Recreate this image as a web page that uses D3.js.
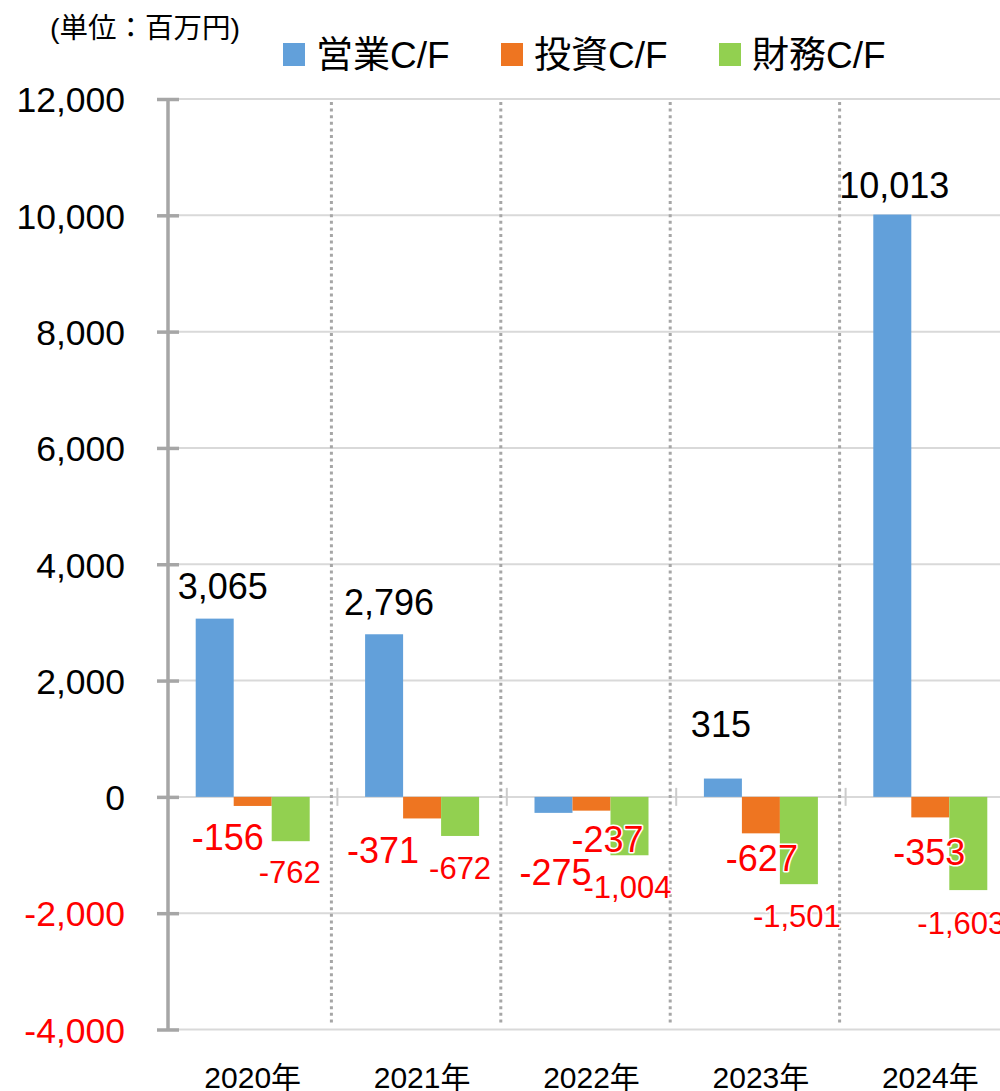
<!DOCTYPE html>
<html>
<head>
<meta charset="utf-8">
<script src="https://cdn.jsdelivr.net/npm/d3@7"></script>
<style>
body { margin: 0; background: #fff; }
text { font-family: "Liberation Sans", Arial, "Noto Sans CJK JP", sans-serif; }
</style>
</head>
<body>
<svg id="cfchart"></svg>
<script>
// data (unit: million yen)
var years = ["2020年", "2021年", "2022年", "2023年", "2024年"]
var seriesNames = ["営業C/F", "投資C/F", "財務C/F"]
var operatingCF = [3065, 2796, -275, 315, 10013]
var investingCF = [-156, -371, -237, -627, -353]
var financingCF = [-762, -672, -1004, -1501, -1603]
var yTicks = [-4000, -2000, 0, 2000, 4000, 6000, 8000, 10000, 12000]
var colors = ["#62a0da", "#ee7521", "#92d050"]

// label nudges (dx from bar centre, dy from bar end), as placed in the original
var labelNudge = [
    [[8, -20], [5, -19], [2, 72], [-2, -42], [2, -17]],
    [[-25, 44], [-39, 45], [16, 41], [1, 38], [-1, 48]],
    [[-1, 42], [0, 43], [-2, 43], [-2, 43], [-7, 44]]
]
var labelSize = [36, 36, 31]

var screen = {width: 1000, height: 1091}
var plot = {left: 168, right: 1015, top: 99, bottom: 1029.5}

var svg = d3.select("#cfchart")
    .attr("width", screen.width)
    .attr("height", screen.height)

var values = [operatingCF, investingCF, financingCF]
var rows = []
years.forEach(function(y, i) {
    seriesNames.forEach(function(s, j) {
        rows.push({year: y, series: s, si: j, yi: i, value: values[j][i]})
    })
})

var xScale = d3.scaleBand()
    .domain(years)
    .range([plot.left, plot.right])
var xInner = d3.scaleBand()
    .domain(seriesNames)
    .range([0, xScale.bandwidth()])
    .paddingOuter(0.729)
var yScale = d3.scaleLinear()
    .domain([-4000, 12000])
    .range([plot.bottom, plot.top])

// plain hyphen for negatives, like the original
var comma = d3.format(",")
var fmt = function(v) { return comma(v).replace("\u2212", "-") }

// horizontal gridlines
svg.append("g")
    .selectAll("line")
    .data(yTicks)
    .enter()
    .append("line")
    .attr("x1", plot.left)
    .attr("x2", screen.width)
    .attr("y1", function(d) { return yScale(d) })
    .attr("y2", function(d) { return yScale(d) })
    .attr("stroke", "#d9d9d9")
    .attr("stroke-width", 2)

// dotted separators between years
svg.append("g")
    .selectAll("line")
    .data(years.slice(1))
    .enter()
    .append("line")
    .attr("x1", function(d) { return xScale(d) - 6 })
    .attr("x2", function(d) { return xScale(d) - 6 })
    .attr("y1", plot.top + 3)
    .attr("y2", 1026)
    .attr("stroke", "#a6a6a6")
    .attr("stroke-width", 3)
    .attr("stroke-dasharray", "3,3.6")

// small x-axis ticks on the zero line
svg.append("g")
    .selectAll("line")
    .data(years.slice(1))
    .enter()
    .append("line")
    .attr("x1", function(d) { return xScale(d) })
    .attr("x2", function(d) { return xScale(d) })
    .attr("y1", yScale(0) - 9)
    .attr("y2", yScale(0) + 9)
    .attr("stroke", "#cccccc")
    .attr("stroke-width", 2)

// bars
svg.append("g")
    .selectAll("rect")
    .data(rows)
    .enter()
    .append("rect")
    .attr("x", function(d) { return xScale(d.year) + xInner(d.series) })
    .attr("width", xInner.bandwidth())
    .attr("y", function(d) { return yScale(Math.max(0, d.value)) })
    .attr("height", function(d) { return Math.abs(yScale(d.value) - yScale(0)) })
    .attr("fill", function(d) { return colors[d.si] })

// y axis
var yAxis = d3.axisLeft(yScale)
    .tickValues(yTicks)
    .tickFormat(fmt)
    .tickSize(0)
    .tickPadding(43)
var ag = svg.append("g")
    .attr("transform", "translate(" + plot.left + ",0)")
    .call(yAxis)
ag.select(".domain").remove()
ag.selectAll(".tick text")
    .attr("font-family", "Liberation Sans, Arial, sans-serif")
    .attr("font-size", 35.5)
    .attr("dy", "0.36em")
    .attr("fill", function(d) { return d < 0 ? "#ff0000" : "#000000" })
ag.selectAll(".tick")
    .append("line")
    .attr("x1", -11)
    .attr("x2", 11)
    .attr("stroke", "#a6a6a6")
    .attr("stroke-width", 3.5)
ag.append("line")
    .attr("y1", plot.top)
    .attr("y2", plot.bottom)
    .attr("stroke", "#a6a6a6")
    .attr("stroke-width", 3.5)

// x labels
var xAxis = d3.axisBottom(xScale).tickSize(0).tickPadding(0)
var xg = svg.append("g")
    .attr("transform", "translate(0,1065)")
    .call(xAxis)
xg.select(".domain").remove()
xg.selectAll(".tick text")
    .attr("font-family", "Liberation Sans, Arial, Noto Sans CJK JP, sans-serif")
    .attr("font-size", 30)
    .attr("fill", "#000")
    .attr("dy", "0.77em")

// value labels
svg.append("g")
    .selectAll("text")
    .data(rows)
    .enter()
    .append("text")
    .attr("x", function(d) {
        return xScale(d.year) + xInner(d.series) + xInner.bandwidth() / 2 + labelNudge[d.si][d.yi][0]
    })
    .attr("y", function(d) { return yScale(d.value) + labelNudge[d.si][d.yi][1] })
    .attr("text-anchor", "middle")
    .attr("font-size", function(d) { return labelSize[d.si] })
    .attr("fill", function(d) { return d.value < 0 ? "#ff0000" : "#000000" })
    .attr("stroke", "#ffffff")
    .attr("stroke-width", function(d) { return d.value < 0 ? 3 : 0 })
    .attr("paint-order", "stroke")
    .attr("stroke-linejoin", "round")
    .text(function(d) { return fmt(d.value) })

// unit note
svg.append("text")
    .attr("x", 50)
    .attr("y", 38)
    .attr("font-size", 28.5)
    .attr("fill", "#000")
    .text("(単位：百万円)")

// legend
var legend = svg.append("g")
    .selectAll("g")
    .data(seriesNames)
    .enter()
    .append("g")
    .attr("transform", function(d, i) { return "translate(" + (283 + i * 218) + ",0)" })
legend.append("rect")
    .attr("y", 43)
    .attr("width", 22)
    .attr("height", 23)
    .attr("fill", function(d, i) { return colors[i] })
legend.append("text")
    .attr("x", 33)
    .attr("y", 68)
    .attr("font-size", 37)
    .attr("fill", "#000")
    .text(function(d) { return d })
</script>
</body>
</html>
